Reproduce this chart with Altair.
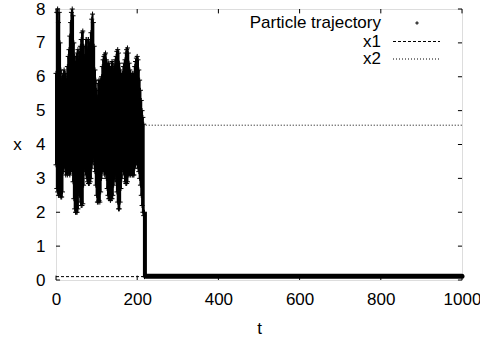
import altair as alt
import pandas as pd

# ---- data ----
t_osc = [0, 2, 4, 6, 8, 10, 12, 14, 16, 18, 20, 22, 24, 26, 28, 30, 32, 34, 36, 38,
         40, 42, 44, 46, 48, 50, 52, 54, 56, 58, 60, 62, 64, 66, 68, 70, 72, 74, 76, 78,
         80, 82, 84, 86, 88, 90, 92, 94, 96, 98, 100, 102, 104, 106, 108, 110, 112, 114, 116, 118,
         120, 122, 124, 126, 128, 130, 132, 134, 136, 138, 140, 142, 144, 146, 148, 150, 152, 154, 156, 158,
         160, 162, 164, 166, 168, 170, 172, 174, 176, 178, 180, 182, 184, 186, 188, 190, 192, 194, 196, 198,
         200, 202, 204, 206, 208, 210, 212, 214, 216, 218]
x_hi = [6.1, 7.9, 8.0, 7.6, 7.9, 7.0, 6.2, 5.9, 6.0, 6.1, 6.2, 6.0, 6.1, 5.9, 6.3, 6.6, 6.8, 7.2, 7.6, 7.9,
        8.0, 7.8, 7.0, 6.6, 6.4, 6.6, 6.7, 6.8, 6.5, 6.7, 6.9, 7.1, 7.3, 7.35, 6.9, 6.6, 6.9, 7.1, 7.1, 6.8,
        7.1, 7.0, 6.8, 7.3, 7.7, 7.85, 7.6, 6.9, 6.2, 5.9, 5.6, 5.4, 5.8, 5.9, 5.6, 5.9, 6.0, 6.3, 6.5, 6.6,
        6.65, 6.7, 6.5, 6.3, 6.4, 6.4, 6.3, 6.2, 6.3, 6.45, 6.4, 6.2, 6.3, 6.5, 6.6, 6.75, 6.8, 6.7, 6.4, 6.2,
        6.1, 6.0, 6.1, 6.3, 6.4, 6.5, 6.7, 6.8, 6.85, 6.7, 6.4, 6.2, 6.1, 6.0, 6.1, 6.0, 6.1, 6.3, 6.45, 6.55,
        6.6, 6.5, 6.2, 5.9, 5.6, 5.3, 5.0, 4.8, 4.6, 2.0]
x_lo = [3.4, 2.7, 2.6, 2.5, 2.6, 2.5, 2.45, 2.45, 2.6, 3.2, 3.4, 3.3, 3.1, 3.2, 3.1, 3.2, 3.15, 3.1, 3.2, 3.3,
        3.2, 2.9, 2.4, 2.1, 2.0, 2.0, 2.0, 2.1, 2.6, 2.5, 2.3, 2.2, 2.2, 2.25, 2.8, 3.3, 3.2, 3.1, 3.0, 2.9,
        2.85, 2.85, 2.9, 3.0, 3.3, 3.5, 3.6, 3.4, 3.2, 2.8, 2.5, 2.3, 2.3, 2.35, 2.3, 2.6, 3.0, 3.2, 3.3, 3.2,
        3.1, 3.2, 3.0, 2.7, 2.5, 2.4, 2.4, 2.35, 2.4, 2.4, 2.5, 2.8, 3.0, 3.1, 2.9, 2.6, 2.3, 2.1, 2.1, 2.3,
        2.7, 3.0, 3.3, 3.2, 3.1, 2.9, 2.85, 2.85, 2.9, 3.1, 3.2, 3.1, 3.1, 3.15, 3.1, 3.1, 3.1, 3.3, 3.4, 3.5,
        3.4, 3.3, 3.2, 3.0, 2.8, 2.5, 2.2, 2.0, 1.9, 0.1]

# fast descent of the particle (one column of stacked markers)
drop_t = 219
drop_range = [0.1, 2.0]

settle_t = [221, 1000]
settle_x = 0.11
x1_t = [0, 219]
x1_val = 0.1
x2_t = [221, 1000]
x2_val = 4.57

x_ticks = [0, 200, 400, 600, 800, 1000]
y_ticks = [0, 1, 2, 3, 4, 5, 6, 7, 8]
legend_labels = ["Particle trajectory", "x1", "x2"]

FONT = "Liberation Sans"
FS = 17
PLUS = "M-1,0L1,0M0,-1L0,1"

xs = alt.Scale(domain=[0, 1000], nice=False, zero=False)
ys = alt.Scale(domain=[0, 8], nice=False, zero=False)

x_axis = alt.Axis(values=x_ticks, format="d", ticks=False, domain=False, grid=False, labelFlush=False,
                  labelOverlap=False, labelFontSize=FS, labelFont=FONT, labelColor="black",
                  labelPadding=11, title="t", titleFontSize=FS, titleFont=FONT,
                  titleFontWeight="normal", titleColor="black", titleX=203, titleY=53,
                  titleBaseline="alphabetic", titleAlign="center")
y_axis = alt.Axis(values=y_ticks, format="d", ticks=False, domain=False, grid=False, labelFlush=False,
                  labelOverlap=False, labelFontSize=FS, labelFont=FONT, labelColor="black",
                  labelPadding=11, title="x", titleFontSize=FS, titleFont=FONT,
                  titleFontWeight="normal", titleColor="black", titleAngle=0, titleX=-39,
                  titleY=135.5, titleAlign="center", titleBaseline="middle")


def X(field):
    return alt.X(field, scale=xs, axis=x_axis)


def Y(field):
    return alt.Y(field, scale=ys, axis=y_axis)


df_osc = pd.DataFrame({"t": t_osc, "hi": x_hi, "lo": x_lo})
df_pts = pd.DataFrame({"t": t_osc + t_osc, "x": x_hi + x_lo})

base_rules = alt.Chart(df_osc).mark_rule(color="black", strokeWidth=2).encode(
    x=X("t:Q"), y=Y("lo:Q"), y2="hi:Q")

pts = alt.Chart(df_pts).mark_point(shape=PLUS, filled=False, color="black", strokeWidth=1,
                                   size=25, opacity=1).encode(x=X("t:Q"), y=Y("x:Q"))

drop = alt.Chart(pd.DataFrame({"t": [drop_t], "a": [drop_range[0]], "b": [drop_range[1]]})).mark_rule(
    color="black", strokeWidth=4).encode(x=X("t:Q"), y=Y("a:Q"), y2="b:Q")

settle = alt.Chart(pd.DataFrame({"t0": [settle_t[0]], "t1": [settle_t[1]], "x": [settle_x]})).mark_rule(
    color="black", strokeWidth=5, strokeCap="round").encode(x=X("t0:Q"), x2="t1:Q", y=Y("x:Q"))

line_x1 = alt.Chart(pd.DataFrame({"t0": [x1_t[0]], "t1": [x1_t[1]], "x": [x1_val]})).mark_rule(
    color="black", strokeWidth=1, strokeDash=[3, 2]).encode(x=X("t0:Q"), x2="t1:Q", y=Y("x:Q"))

line_x2 = alt.Chart(pd.DataFrame({"t0": [x2_t[0]], "t1": [x2_t[1]], "x": [x2_val]})).mark_rule(
    color="black", strokeWidth=1, strokeDash=[1, 2]).encode(x=X("t0:Q"), x2="t1:Q", y=Y("x:Q"))

# inward tick marks (gnuplot style, mirrored)
xt = pd.DataFrame({"v": x_ticks})
yt = pd.DataFrame({"v": y_ticks})
tick_style = dict(color="black", strokeWidth=1)
tb = alt.Chart(xt).mark_rule(**tick_style).encode(
    x=X("v:Q"), y=Y("a:Q"), y2="b:Q").transform_calculate(a="0", b="0.13")
tt = alt.Chart(xt).mark_rule(**tick_style).encode(
    x=X("v:Q"), y=Y("a:Q"), y2="b:Q").transform_calculate(a="7.87", b="8")
tl = alt.Chart(yt).mark_rule(**tick_style).encode(
    y=Y("v:Q"), x=X("a:Q"), x2="b:Q").transform_calculate(a="0", b="10")
tr = alt.Chart(yt).mark_rule(**tick_style).encode(
    y=Y("v:Q"), x=X("a:Q"), x2="b:Q").transform_calculate(a="990", b="1000")

# legend (labels left of samples, as in gnuplot)
leg_y = [14, 32.5, 50]
leg_layers = []
for lab, yy in zip(legend_labels, leg_y):
    leg_layers.append(alt.Chart(pd.DataFrame({"label": [lab]})).mark_text(
        align="right", baseline="middle", font=FONT, fontSize=FS, color="black").encode(
        text="label:N", x=alt.value(325), y=alt.value(yy)))
leg_pt = alt.Chart(pd.DataFrame({"k": [0]})).mark_point(
    shape=PLUS, filled=False, color="black", strokeWidth=1, size=12, opacity=1).encode(
    x=alt.value(361), y=alt.value(leg_y[0]))
leg_x1 = alt.Chart(pd.DataFrame({"k": [0]})).mark_rule(
    color="black", strokeWidth=1, strokeDash=[3, 2]).encode(
    x=alt.value(337), x2=alt.value(384), y=alt.value(leg_y[1]))
leg_x2 = alt.Chart(pd.DataFrame({"k": [0]})).mark_rule(
    color="black", strokeWidth=1, strokeDash=[1, 2]).encode(
    x=alt.value(337), x2=alt.value(384), y=alt.value(leg_y[2]))

chart = alt.layer(
    base_rules, pts, drop, settle, line_x1, line_x2, tb, tt, tl, tr,
    *leg_layers, leg_pt, leg_x1, leg_x2
).properties(
    width=406, height=271,
    autosize=alt.AutoSizeParams(type="none"),
    padding={"left": 56, "top": 9, "right": 18, "bottom": 58},
).configure_view(stroke="black", strokeWidth=1).configure(font=FONT, background="white")

chart.save("out.html", embed_options={"renderer": "svg", "actions": False})
